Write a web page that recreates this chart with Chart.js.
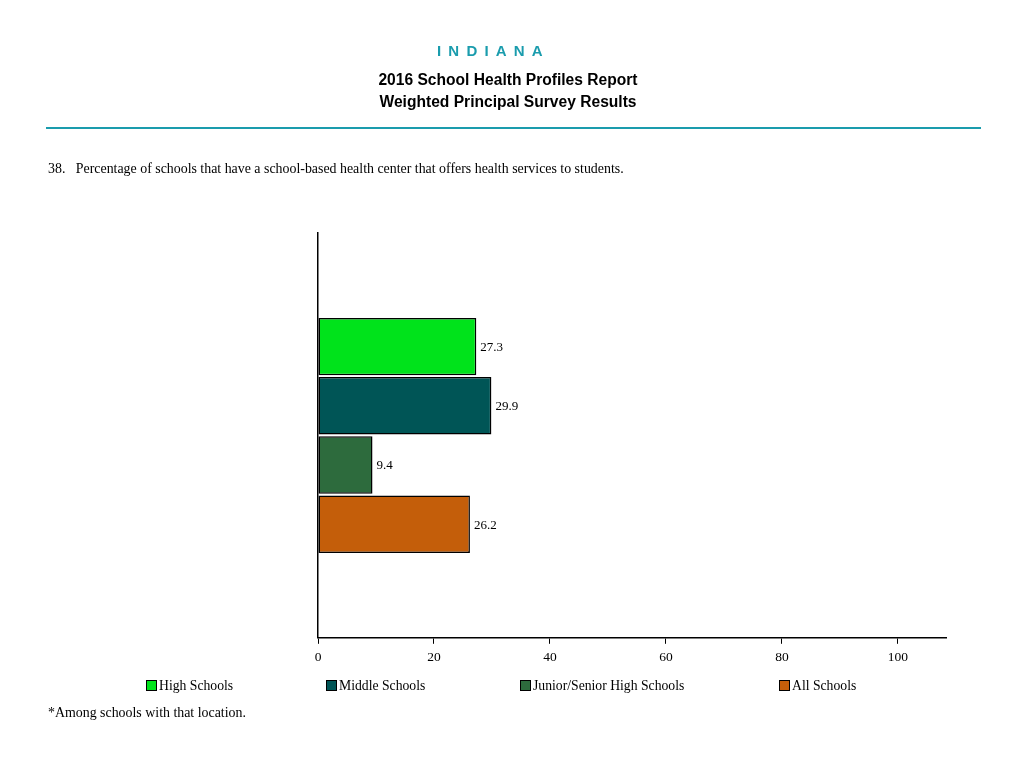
<!DOCTYPE html>
<html><head><meta charset="utf-8">
<script src="https://cdn.jsdelivr.net/npm/chart.js@4.4.1/dist/chart.umd.min.js"></script>
<style>
html,body{margin:0;padding:0;background:#fff;width:1024px;height:768px;overflow:hidden;position:relative;}
.t{position:absolute;left:0;width:1024px;text-align:center;font-family:"Liberation Sans",Arial,sans-serif;font-weight:bold;}
#state{top:42px;left:437px;width:auto;font-size:15px;color:#1a9cad;letter-spacing:7.2px;}
#t1{top:71px;font-size:15.6px;color:#000;left:-4px;}
#t2{top:93px;font-size:15.6px;color:#000;left:-4px;}
#rule{position:absolute;left:46px;top:127px;width:935px;height:2px;background:#1a9cad;}
.s{position:absolute;font-family:"Liberation Serif","Times New Roman",serif;font-size:13.9px;color:#000;white-space:nowrap;}
#q{left:48px;top:161px;}
#foot{left:48px;top:705px;}
#wrap{position:absolute;left:0;top:0;width:1024px;height:768px;}
.lg{position:absolute;top:678px;font-family:"Liberation Serif","Times New Roman",serif;font-size:13.7px;white-space:nowrap;}
.lg span.b{display:inline-block;width:9px;height:9px;border:1px solid #000;margin-right:2px;vertical-align:-1px;}
</style></head>
<body>
<div id="wrap"><canvas id="c" width="1024" height="768"></canvas></div>
<div class="t" id="state">INDIANA</div>
<div class="t" id="t1">2016 School Health Profiles Report</div>
<div class="t" id="t2">Weighted Principal Survey Results</div>
<div id="rule"></div>
<div class="s" id="q">38.&nbsp;&nbsp;&nbsp;Percentage of schools that have a school-based health center that offers health services to students.</div>
<div class="s" id="foot">*Among schools with that location.</div>
<div id="legend"></div>
<script>
const categories = [""];
const seriesNames = ["High Schools", "Middle Schools", "Junior/Senior High Schools", "All Schools"];
const seriesValues = [[27.3], [29.9], [9.4], [26.2]];
const seriesColors = ["#00e31b", "#005556", "#2d6b3d", "#c45e0a"];
const xTicks = [0, 20, 40, 60, 80, 100];
const legendX = [146, 326, 520, 779];

const labelPlugin = {
  id: 'barLabels',
  afterDatasetsDraw(chart) {
    const ctx = chart.ctx;
    ctx.save();
    ctx.font = '13px "Liberation Serif", "Times New Roman", serif';
    ctx.fillStyle = '#000';
    ctx.textBaseline = 'middle';
    ctx.textAlign = 'left';
    chart.data.datasets.forEach((ds, i) => {
      const meta = chart.getDatasetMeta(i);
      meta.data.forEach((bar, j) => {
        ctx.fillText(ds.data[j].toFixed(1), bar.x + 4, bar.y + 1);
      });
    });
    ctx.restore();
  }
};

new Chart(document.getElementById('c'), {
  type: 'bar',
  data: {
    labels: categories,
    datasets: seriesNames.map((n, i) => ({
      label: n,
      data: seriesValues[i],
      backgroundColor: seriesColors[i],
      borderColor: '#000',
      borderWidth: 1.5,
      borderSkipped: false,
      categoryPercentage: 0.585,
      barPercentage: 0.97
    }))
  },
  options: {
    indexAxis: 'y',
    responsive: false,
    animation: false,
    devicePixelRatio: 1,
    layout: { padding: { left: 318, right: 78, top: 233, bottom: 96 } },
    plugins: { legend: { display: false }, tooltip: { enabled: false } },
    scales: {
      x: {
        type: 'linear',
        min: 0,
        max: 108.3,
        afterBuildTicks(scale) { scale.ticks = xTicks.map(v => ({ value: v })); },
        ticks: {
          color: '#000',
          font: { family: '"Liberation Serif", "Times New Roman", serif', size: 13.5 },
          padding: 6,
          maxRotation: 0
        },
        grid: { drawOnChartArea: false, drawTicks: true, tickLength: 6, color: '#000', lineWidth: 1 },
        border: { display: true, color: '#000', width: 1.5 }
      },
      y: {
        ticks: { display: false },
        grid: { display: false, drawTicks: false },
        border: { display: true, color: '#000', width: 1.5 }
      }
    }
  },
  plugins: [labelPlugin]
});

const lg = document.getElementById('legend');
seriesNames.forEach((n, i) => {
  const d = document.createElement('div');
  d.className = 'lg';
  d.style.left = legendX[i] + 'px';
  d.innerHTML = '<span class="b" style="background:' + seriesColors[i] + '"></span>' + n;
  lg.appendChild(d);
});
</script>
</body></html>
